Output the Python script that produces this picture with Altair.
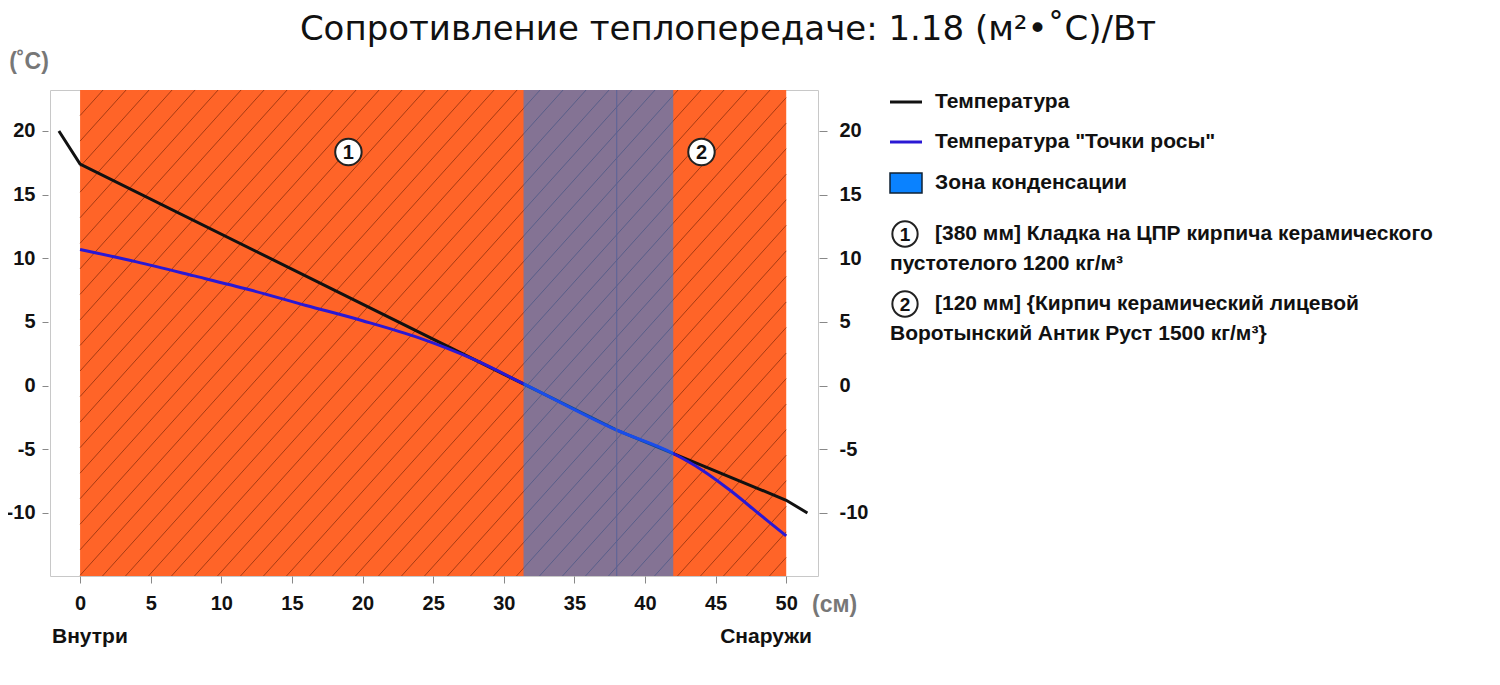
import altair as alt
import numpy as np
import pandas as pd

title_text = "Сопротивление теплопередаче: 1.18 (м²•˚C)/Вт"

# температура по толщине стены (см -> °C)
temp_x = [-1.5, 0, 38, 50, 51.5]
temp_y = [20.0, 17.4, -3.5, -9.0, -10.0]

# температура точки росы
dew_x = [0, 4, 8, 12, 16, 20, 24, 28, 31.4, 38, 42, 44, 46, 48, 50]
dew_y = [10.7, 9.72, 8.64, 7.53, 6.3, 5.1, 3.75, 2.0, 0.15, -3.5, -5.33, -6.6, -8.2, -10.0, -11.8]

# слои
layer_start = [0, 38]
layer_end = [38, 50]
layer_num = ["1", "2"]

# зона конденсации
zone_start = [31.4]
zone_end = [42.0]

x_ticks = [0, 5, 10, 15, 20, 25, 30, 35, 40, 45, 50]
y_ticks = [-10, -5, 0, 5, 10, 15, 20]

legend_lines = ["Температура", 'Температура "Точки росы"', "Зона конденсации"]
legend_layers = [
    ("[380 мм] Кладка на ЦПР кирпича керамического", "пустотелого 1200 кг/м³"),
    ("[120 мм] {Кирпич керамический лицевой", "Воротынский Антик Руст 1500 кг/м³}"),
]

W, H = 768, 486
X_DOM = [-2.13, 52.25]
Y_DOM = [-14.95, 23.22]
FONT = "Liberation Sans"
ORANGE = "#ff6428"
ZONE = "#0a82ff"
TXT = 21

xs = alt.Scale(domain=X_DOM, nice=False, zero=False)
ys = alt.Scale(domain=Y_DOM, nice=False, zero=False)

temp_df = pd.DataFrame({"x": temp_x, "t": temp_y})
dew_df = pd.DataFrame({"x": dew_x, "t": dew_y})
layers_df = pd.DataFrame({
    "start": layer_start, "end": layer_end, "num": layer_num,
    "mid": [(a + b) / 2 for a, b in zip(layer_start, layer_end)],
})
zone_df = pd.DataFrame({"start": zone_start, "end": zone_end})

# штриховка слоёв: наклонные линии, обрезанные по границам стены
px_x = W / (X_DOM[1] - X_DOM[0])
px_y = H / (Y_DOM[1] - Y_DOM[0])
k = np.tan(np.radians(48)) * px_x / px_y
step = 23 / px_x
span = (Y_DOM[1] - Y_DOM[0]) / k
hatch = []
c = -span
while c < layer_end[-1]:
    xa, xb = max(c, layer_start[0]), min(c + span, layer_end[-1])
    if xb > xa:
        hatch.append({"x": xa, "y": Y_DOM[0] + k * (xa - c),
                      "x2": xb, "y2": Y_DOM[0] + k * (xb - c)})
    c += step
hatch_df = pd.DataFrame(hatch)

one = pd.DataFrame({"a": [0]})

x_axis = alt.Axis(values=x_ticks, title=None, domain=False, grid=False,
                  tickColor="#888", tickSize=7, labelFont=FONT, labelFontWeight="bold",
                  labelFontSize=20, labelColor="#111", labelPadding=10)
y_axis = alt.Axis(values=y_ticks, title=None, domain=False, grid=False, offset=2,
                  tickColor="#888", tickSize=6, labelFont=FONT, labelFontWeight="bold",
                  labelFontSize=20, labelColor="#111", labelPadding=7,
                  labelExpr="'' + datum.value")
y_axis_r = alt.Axis(values=y_ticks, title=None, domain=False, grid=False, orient="right",
                    offset=1, tickColor="#888", tickSize=8, labelFont=FONT,
                    labelFontWeight="bold", labelFontSize=20, labelColor="#111",
                    labelPadding=12, labelExpr="'' + datum.value")


def label(txt, px, py, size=TXT, align="left", color="#111", weight="bold", font=FONT):
    return alt.Chart(one).mark_text(
        align=align, baseline="middle", font=font, fontSize=size,
        fontWeight=weight, color=color,
    ).encode(x=alt.value(px), y=alt.value(py), text=alt.value(txt))


def badge(num, px, py):
    ring = alt.Chart(one).mark_point(
        shape="circle", filled=True, fill="white", stroke="#222",
        strokeWidth=2, size=640, opacity=1,
    ).encode(x=alt.value(px), y=alt.value(py))
    return ring + label(num, px, py + 1, size=19, align="center")


bg = alt.Chart(layers_df).mark_rect(color=ORANGE).encode(
    x=alt.X("start:Q", scale=xs, axis=x_axis), x2="end",
    y=alt.value(0), y2=alt.value(H),
)

hatch_lines = alt.Chart(hatch_df).mark_rule(color="#8a2e0c", strokeWidth=1, opacity=0.75).encode(
    x=alt.X("x:Q", scale=xs), y=alt.Y("y:Q", scale=ys), x2="x2", y2="y2",
)

temp_line = alt.Chart(temp_df).mark_line(color="#111", strokeWidth=3).encode(
    x=alt.X("x:Q", scale=xs), y=alt.Y("t:Q", scale=ys, axis=y_axis),
)

dew_line = alt.Chart(dew_df).mark_line(color="#2a18d4", strokeWidth=3, interpolate="monotone").encode(
    x=alt.X("x:Q", scale=xs), y=alt.Y("t:Q", scale=ys),
)

zone = alt.Chart(zone_df).mark_rect(color=ZONE, opacity=0.5).encode(
    x=alt.X("start:Q", scale=xs), x2="end", y=alt.value(0), y2=alt.value(H),
)

boundary = alt.Chart(layers_df.iloc[1:]).mark_rule(color="#5a5f92", strokeWidth=1).encode(
    x=alt.X("start:Q", scale=xs), y=alt.value(0), y2=alt.value(H),
)

rings = alt.Chart(layers_df).mark_point(
    shape="circle", filled=True, fill="white", stroke="#222",
    strokeWidth=2, size=700, opacity=1,
).encode(x=alt.X("mid:Q", scale=xs), y=alt.value(62))

ring_text = alt.Chart(layers_df).mark_text(
    font=FONT, fontSize=20, fontWeight="bold", color="#111", baseline="middle",
).encode(x=alt.X("mid:Q", scale=xs), y=alt.value(63), text="num:N")

# легенда справа
lx, tx = 840, 885
leg = [
    alt.Chart(one).mark_rule(color="#111", strokeWidth=3).encode(
        x=alt.value(lx), x2=alt.value(lx + 32), y=alt.value(12)),
    label(legend_lines[0], tx, 12),
    alt.Chart(one).mark_rule(color="#2a18d4", strokeWidth=3).encode(
        x=alt.value(lx), x2=alt.value(lx + 32), y=alt.value(52)),
    label(legend_lines[1], tx, 52),
    alt.Chart(one).mark_rect(color=ZONE, stroke="#123", strokeWidth=1.5).encode(
        x=alt.value(lx), x2=alt.value(lx + 32), y=alt.value(83), y2=alt.value(103)),
    label(legend_lines[2], tx, 93),
]
for i, (first, second) in enumerate(legend_layers):
    yy = 144 + i * 70
    leg += [badge(layer_num[i], lx + 15, yy), label(first, tx, yy), label(second, lx, yy + 30)]

notes = [
    label(title_text, 678, -60, size=34, align="center", weight="normal", font="DejaVu Sans"),
    label("(˚C)", -21, -28, size=23, align="center", color="#777"),
    label("(см)", 762, 515, size=23, color="#777"),
    label("Внутри", 2, 547),
    label("Снаружи", 762, 547, align="right"),
]

inner = alt.layer(bg, hatch_lines, temp_line, dew_line, zone, boundary, rings, ring_text,
                  *leg, *notes)

right = alt.Chart(temp_df).mark_line(opacity=0).encode(
    x=alt.X("x:Q", scale=xs), y=alt.Y("t:Q", scale=ys, axis=y_axis_r),
)

chart = alt.layer(inner, right).resolve_scale(y="independent").properties(
    width=W, height=H,
    autosize=alt.AutoSizeParams(type="none"),
    padding={"left": 42, "top": 82, "right": 674, "bottom": 101},
).configure_view(stroke="#c8c8c8", strokeWidth=1)

chart.save("out.html", embed_options={"renderer": "svg", "actions": False})
